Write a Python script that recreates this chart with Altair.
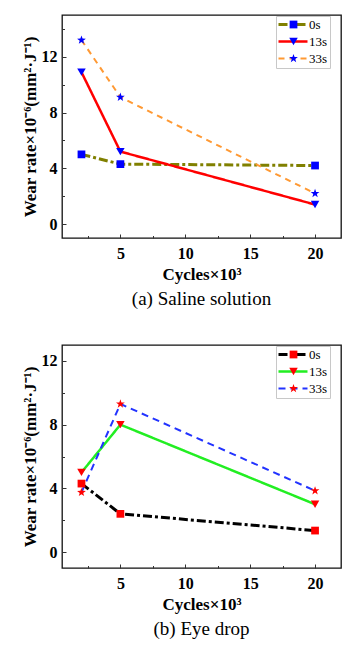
import altair as alt
import pandas as pd

# ---- data ----
cycles = [2, 5, 20]
series_names = ["0s", "13s", "33s"]
saline_0s = [5.0, 4.3, 4.2]
saline_13s = [10.9, 5.2, 1.4]
saline_33s = [13.2, 9.1, 2.2]
eye_0s = [4.3, 2.4, 1.35]
eye_13s = [5.0, 8.0, 3.0]
eye_33s = [3.75, 9.3, 3.85]

x_major = [5, 10, 15, 20]
x_minor = [2.5, 7.5, 12.5, 17.5]
y_major = [0, 4, 8, 12]
y_minor = [2, 6, 10, 14]

FONT = "Liberation Serif"
STAR = ("M0,-1L0.235,-0.324L0.951,-0.309L0.38,0.124L0.588,0.809L0,0.4"
        "L-0.588,0.809L-0.38,0.124L-0.951,-0.309L-0.235,-0.324Z")
LEGEND_LINE = "M-1.2,0H4.6"
WIDTHS = [3, 2, 1.5]


def make_df(vals):
    rows = []
    for name, v in zip(series_names, vals):
        for c, r in zip(cycles, v):
            rows.append({"cycles": c, "rate": r, "series": name, "marker": name})
    return pd.DataFrame(rows)


def panel(df, ymax, line_colors, marker_color, caption, dashes):
    xs = alt.Scale(domain=[0.5, 22], nice=False, zero=False)
    ys = alt.Scale(domain=[-1, ymax], nice=False, zero=False)

    x_main = alt.X(
        "cycles:Q", scale=xs,
        axis=alt.Axis(values=x_major, format="d", title="Cycles×10³", ticks=False,
                      domain=False, grid=False, labelPadding=7, titlePadding=5,
                      labelFont=FONT, labelFontSize=16, labelFontWeight="bold",
                      titleFont=FONT, titleFontSize=17, titleFontWeight="bold",
                      labelColor="black", titleColor="black"))
    y_main = alt.Y(
        "rate:Q", scale=ys,
        axis=alt.Axis(values=y_major, format="d", title="Wear rate×10⁻⁶(mm²·J⁻¹)",
                      ticks=False, domain=False, grid=False, labelPadding=5,
                      titlePadding=2, labelFont=FONT, labelFontSize=16,
                      labelFontWeight="bold", titleFont=FONT, titleFontSize=17,
                      titleFontWeight="bold", labelColor="black", titleColor="black"))

    leg_line = alt.Legend(
        orient="none", legendX=214, legendY=1, title=None, symbolType=LEGEND_LINE,
        symbolSize=100, labelFont=FONT, labelFontSize=13, labelColor="black",
        strokeColor="#c8c8c8", padding=2, rowPadding=3, labelOffset=18,
        labelExpr="datum.label == '33s' ? '\u00a033s' : datum.label")
    leg_pt = alt.Legend(
        orient="none", legendX=223, legendY=1, title=None, labelFont=FONT,
        labelFontSize=13, labelExpr="''", padding=2, rowPadding=3,
        symbolFillColor=marker_color, symbolStrokeColor=marker_color,
        symbolStrokeWidth=0, symbolOpacity=1)

    lines = alt.Chart(df).mark_line().encode(
        x=x_main, y=y_main,
        color=alt.Color("series:N", scale=alt.Scale(domain=series_names, range=line_colors),
                        legend=leg_line),
        strokeDash=alt.StrokeDash("series:N", scale=alt.Scale(domain=series_names, range=dashes),
                                  legend=leg_line),
        strokeWidth=alt.StrokeWidth("series:N",
                                    scale=alt.Scale(domain=series_names, range=WIDTHS),
                                    legend=leg_line),
    )
    points = alt.Chart(df).mark_point(filled=True, opacity=1, color=marker_color,
                                      strokeWidth=0).encode(
        x=alt.X("cycles:Q", scale=xs, axis=None),
        y=alt.Y("rate:Q", scale=ys, axis=None),
        shape=alt.Shape("marker:N",
                        scale=alt.Scale(range=["square", "triangle-down", STAR]),
                        legend=leg_pt),
        size=alt.Size("marker:N", scale=alt.Scale(range=[60, 85, 130]), legend=leg_pt),
    )

    def tick_layer(xv, yv, length):
        return alt.Chart(df).mark_point(opacity=0).encode(
            x=alt.X("cycles:Q", scale=xs,
                    axis=alt.Axis(orient="bottom", values=xv, labels=False, title=None,
                                  domain=False, grid=False, ticks=True, tickSize=length,
                                  offset=-length, tickColor="#333", tickWidth=1)),
            y=alt.Y("rate:Q", scale=ys,
                    axis=alt.Axis(orient="left", values=yv, labels=False, title=None,
                                  domain=False, grid=False, ticks=True, tickSize=length,
                                  offset=-length, tickColor="#333", tickWidth=1)),
        )

    return alt.layer(
        lines, points, tick_layer(x_major, y_major, 4), tick_layer(x_minor, y_minor, 2.5)
    ).resolve_axis(x="independent", y="independent").properties(
        width=279, height=223,
        title=alt.TitleParams(caption, orient="bottom", font=FONT, fontSize=19,
                              fontWeight="normal", color="black", offset=8,
                              anchor="middle"),
    )


top = panel(make_df([saline_0s, saline_13s, saline_33s]), 15,
            ["#808000", "#ff0000", "#ff9933"], "#0000ff", "(a) Saline solution",
            [[9, 3, 3, 3], [1, 0], [6, 5]])
bottom = panel(make_df([eye_0s, eye_13s, eye_33s]), 13,
               ["#000000", "#22ee22", "#2233ff"], "#ff0000", "(b) Eye drop",
               [[9, 3, 3, 3], [1, 0], [7, 5]])

chart = alt.vconcat(top, bottom, spacing=34).resolve_scale(
    color="independent", strokeDash="independent", strokeWidth="independent",
    shape="independent", size="independent"
).properties(
    padding={"left": 12, "top": 6, "right": 5, "bottom": 5}
).configure_view(stroke="#111", strokeWidth=1.3)

chart.save("out.html", embed_options={"renderer": "svg", "actions": False})
